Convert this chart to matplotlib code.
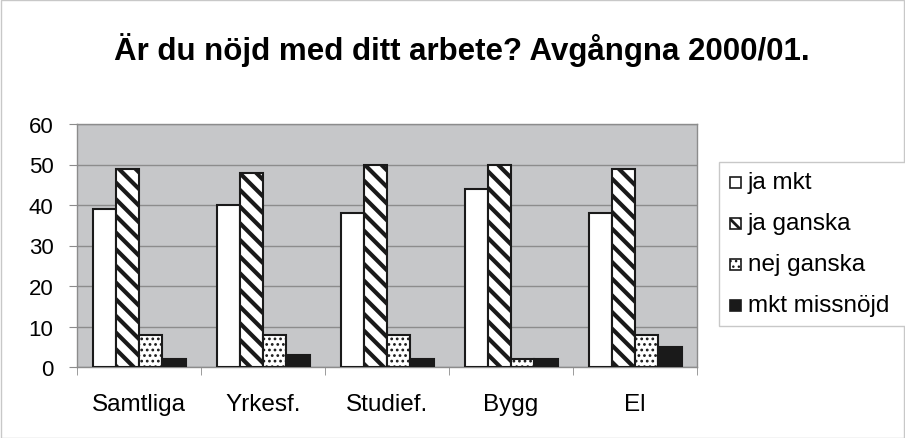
import matplotlib
matplotlib.use("Agg")
import matplotlib.pyplot as plt
import numpy as np
from matplotlib.patches import Rectangle

plt.rcParams['font.family'] = ['Liberation Sans', 'DejaVu Sans']
plt.rcParams['hatch.linewidth'] = 3.0

categories = ["Samtliga", "Yrkesf.", "Studief.", "Bygg", "El"]
series_names = ["ja mkt", "ja ganska", "nej ganska", "mkt missnöjd"]
ja_mkt = [39, 40, 38, 44, 38]
ja_ganska = [49, 48, 50, 50, 49]
nej_ganska = [8, 8, 8, 2, 8]
mkt_missnojd = [2, 3, 2, 2, 5]
yticks = [0, 10, 20, 30, 40, 50, 60]
title = "Är du nöjd med ditt arbete? Avgångna 2000/01."

series = [ja_mkt, ja_ganska, nej_ganska, mkt_missnojd]
styles = [
    dict(facecolor="white", hatch=None, hlw=1.0),
    dict(facecolor="white", hatch="\\\\", hlw=3.0),
    dict(facecolor="white", hatch="...", hlw=1.2),
    dict(facecolor="#1a1a1a", hatch=None, hlw=1.0),
]


def set_hlw(p, lw):
    try:
        p.set_hatch_linewidth(lw)
    except Exception:
        pass


W, H = 905, 439
fig = plt.figure(figsize=(W / 100, H / 100), dpi=100)
fig.patch.set_facecolor("white")
fig.add_artist(Rectangle((0.5 / W, 0.5 / H), 1 - 1.5 / W, 1 - 1.5 / H, transform=fig.transFigure,
                         fill=False, edgecolor="#c8c8c8", linewidth=1))

ax = fig.add_axes([77 / W, 1 - 368 / H, (697 - 77) / W, (368 - 125) / H])
ax.set_facecolor("#c6c7c9")
x = np.arange(len(categories))
bw = 0.1875
for i, (vals, st) in enumerate(zip(series, styles)):
    offs = (i - 1.5) * bw
    bars = ax.bar(x + offs, vals, width=bw, facecolor=st["facecolor"], hatch=st["hatch"],
                  edgecolor="#1a1a1a", linewidth=1.5, zorder=3)
    for b in bars:
        set_hlw(b, st["hlw"])

ax.set_xlim(-0.5, len(categories) - 0.5)
ax.set_ylim(0, 60)
ax.set_yticks(yticks)
ax.set_yticklabels([str(t) for t in yticks], fontsize=16)
ax.yaxis.grid(True, color="#8c8c8c", linewidth=1, zorder=0)
ax.set_axisbelow(True)
ax.set_xticks(x)
ax.set_xticklabels(categories, fontsize=17.5)
ax.tick_params(axis="x", length=0, pad=19)
ax.tick_params(axis="y", length=6, color="#8c8c8c", pad=11)
ax.set_xticks(np.arange(len(categories) + 1) - 0.5, minor=True)
ax.tick_params(axis="x", which="minor", length=6, color="#8c8c8c", direction="out")
for s in ["top", "right", "left", "bottom"]:
    ax.spines[s].set_color("#8c8c8c")
    ax.spines[s].set_linewidth(1)

fig.text(462 / W, 1 - 50 / H, title, ha="center", va="center", fontsize=22.5, fontweight="bold")

# legend box
fig.add_artist(Rectangle((719 / W, 1 - 327 / H), (W + 5 - 719) / W, (327 - 163) / H,
                         transform=fig.transFigure, facecolor="white", edgecolor="#c8c8c8",
                         linewidth=1, clip_on=False))
ycent = [183, 224, 265, 306]
for i, st in enumerate(styles):
    yc = ycent[i]
    r = Rectangle((729.5 / W, 1 - (yc + 6) / H), 11 / W, 11 / H, transform=fig.transFigure,
                  facecolor=st["facecolor"], hatch=("\\\\\\" if i == 1 else ("..." if i == 2 else None)),
                  edgecolor="#1a1a1a", linewidth=1.2)
    set_hlw(r, 2.0 if i == 1 else 1.0)
    fig.add_artist(r)
    fig.text(748 / W, 1 - yc / H, series_names[i], ha="left", va="center", fontsize=17.5)

fig.savefig("out.png", dpi=100)
